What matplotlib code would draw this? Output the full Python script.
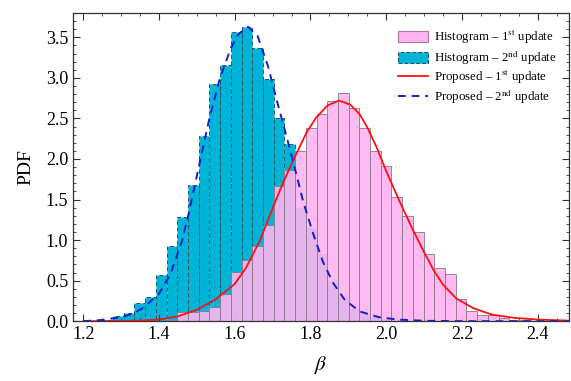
import matplotlib
matplotlib.use('Agg')
import matplotlib.pyplot as plt
from matplotlib.patches import Patch
from matplotlib.lines import Line2D
from matplotlib.ticker import MultipleLocator, FormatStrFormatter
import numpy as np

plt.rcParams['font.family'] = ['Liberation Serif', 'DejaVu Serif']
plt.rcParams['mathtext.fontset'] = 'stix'

# common bin edges of both histograms
bin_edges = [1.2218, 1.2501, 1.2784, 1.3067, 1.3350, 1.3633, 1.3915, 1.4198,
             1.4481, 1.4764, 1.5047, 1.5330, 1.5613, 1.5896, 1.6179, 1.6462,
             1.6744, 1.7027, 1.7310, 1.7593, 1.7876, 1.8159, 1.8442, 1.8725,
             1.9008, 1.9291, 1.9573, 1.9856, 2.0139, 2.0422, 2.0705, 2.0988,
             2.1271, 2.1554, 2.1837, 2.2120, 2.2402, 2.2685, 2.2968, 2.3251,
             2.3534, 2.3817, 2.4100, 2.4383]

hist_2nd = [0.005, 0.02, 0.06, 0.10, 0.23, 0.30, 0.57, 0.93, 1.29, 1.68,
            2.28, 2.93, 3.16, 3.56, 3.63, 3.37, 2.98, 2.50, 2.19, 1.40,
            1.15, 0.83, 0.50, 0.30, 0.15, 0.09, 0.05, 0.03, 0.01, 0.0,
            0.0, 0.0, 0.0, 0.0, 0.0, 0.0, 0.0, 0.0, 0.0, 0.0,
            0.0, 0.0, 0.0]

hist_1st = [0.0, 0.0, 0.0, 0.0, 0.0, 0.0, 0.0, 0.01, 0.11, 0.11,
            0.13, 0.18, 0.33, 0.61, 0.75, 0.93, 1.18, 1.67, 1.86, 2.10,
            2.38, 2.55, 2.72, 2.81, 2.63, 2.38, 2.10, 1.91, 1.53, 1.30,
            1.10, 0.83, 0.65, 0.58, 0.27, 0.12, 0.08, 0.08, 0.04, 0.02,
            0.01, 0.0, 0.0]

# proposed PDFs
beta_1st = [1.20, 1.30, 1.35, 1.40, 1.45, 1.50, 1.55, 1.60, 1.63, 1.666,
            1.693, 1.71, 1.73, 1.754, 1.79, 1.815, 1.845, 1.875, 1.905, 1.93,
            1.95, 1.975, 2.00, 2.036, 2.07, 2.10, 2.125, 2.15, 2.185, 2.23,
            2.28, 2.34, 2.40, 2.49]
pdf_1st = [0.0, 0.002, 0.006, 0.02, 0.06, 0.14, 0.27, 0.46, 0.66, 0.99,
           1.31, 1.51, 1.73, 1.98, 2.33, 2.51, 2.66, 2.72, 2.67, 2.55,
           2.39, 2.14, 1.85, 1.47, 1.13, 0.85, 0.63, 0.45, 0.28, 0.16,
           0.08, 0.04, 0.02, 0.005]

beta_2nd = [1.20, 1.25, 1.30, 1.33, 1.36, 1.40, 1.43, 1.46, 1.476, 1.505,
            1.533, 1.561, 1.59, 1.61, 1.635, 1.66, 1.688, 1.715, 1.732, 1.754,
            1.781, 1.807, 1.833, 1.860, 1.891, 1.93, 1.98, 2.03, 2.10, 2.20,
            2.49]
pdf_2nd = [0.0, 0.015, 0.05, 0.09, 0.17, 0.34, 0.58, 0.98, 1.28, 1.90,
           2.50, 3.00, 3.37, 3.54, 3.63, 3.52, 3.14, 2.65, 2.36, 1.97,
           1.47, 1.08, 0.73, 0.47, 0.26, 0.12, 0.05, 0.02, 0.005, 0.0,
           0.0]

legend_labels = ['Histogram – 1$^{\\mathrm{st}}$ update',
                 'Histogram – 2$^{\\mathrm{nd}}$ update',
                 'Proposed – 1$^{\\mathrm{st}}$ update',
                 'Proposed – 2$^{\\mathrm{nd}}$ update']

cyan = '#00B4D8'
pink = '#FFB4F0'
pink_edge = '#8c7a8c'
cyan_edge = '#1f5866'

fig = plt.figure(figsize=(5.71, 3.81), dpi=100)
ax = fig.add_axes([0.128, 0.157, 0.868, 0.809])

lefts = np.array(bin_edges[:-1])
widths = np.diff(bin_edges)

ax.bar(lefts, hist_2nd, width=widths, align='edge', color=cyan,
       edgecolor=cyan_edge, linewidth=0.7, linestyle=(0, (4, 3)), zorder=1)
ax.bar(lefts, hist_1st, width=widths, align='edge', color=pink, alpha=0.9,
       edgecolor=pink_edge, linewidth=0.7, zorder=2)

ax.plot(beta_1st, pdf_1st, color='#ff1010', lw=1.3, zorder=3)
ax.plot(beta_2nd, pdf_2nd, color='#1020d0', lw=1.4, dashes=(4, 3), zorder=4)

ax.set_xlim(1.173, 2.482)
ax.set_ylim(0, 3.8)
ax.xaxis.set_major_locator(MultipleLocator(0.2))
ax.xaxis.set_minor_locator(MultipleLocator(0.05))
ax.yaxis.set_major_locator(MultipleLocator(0.5))
ax.yaxis.set_minor_locator(MultipleLocator(0.1))
ax.xaxis.set_major_formatter(FormatStrFormatter('%.1f'))
ax.yaxis.set_major_formatter(FormatStrFormatter('%.1f'))
ax.tick_params(which='both', direction='in', top=True, right=True,
               labelsize=13, color='#333333')
ax.tick_params(which='major', length=5)
ax.tick_params(which='minor', length=2.5)
for sp in ax.spines.values():
    sp.set_color('#333333')
    sp.set_linewidth(0.9)

ax.set_xlabel('$\\beta$', fontsize=15, labelpad=8)
ax.set_ylabel('PDF', fontsize=14, labelpad=8)

handles = [Patch(facecolor=pink, edgecolor='#a878a8', linewidth=0.8),
           Patch(facecolor=cyan, edgecolor=cyan_edge, linewidth=0.8, linestyle='--'),
           Line2D([], [], color='#ff1010', lw=1.3),
           Line2D([], [], color='#1020d0', lw=1.4, dashes=(4, 3))]
ax.legend(handles, legend_labels, loc='upper right', bbox_to_anchor=(0.986, 0.965),
          frameon=False, fontsize=9.3, handlelength=2.35, handleheight=0.9,
          labelspacing=0.12, handletextpad=0.45, borderaxespad=0.0)

fig.savefig('out.png', dpi=100)
